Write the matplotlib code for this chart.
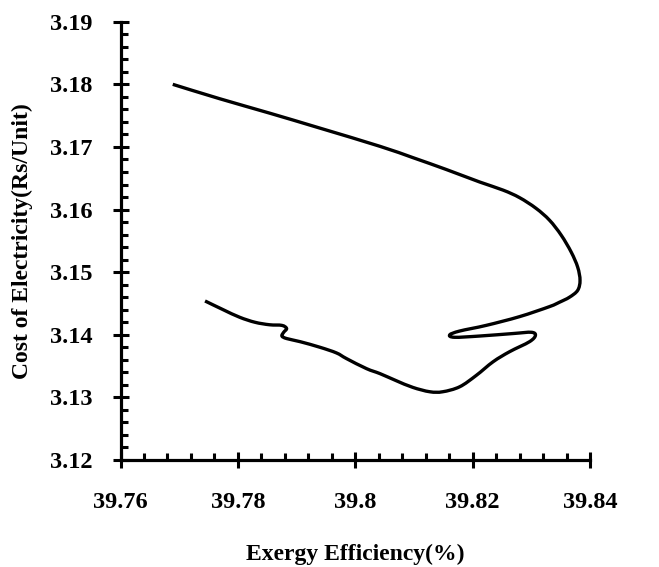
import matplotlib
matplotlib.use("Agg")
import matplotlib.pyplot as plt
import numpy as np
from matplotlib.path import Path
from matplotlib.patches import PathPatch
from matplotlib.ticker import MultipleLocator, FixedLocator

# Exergy efficiency (%) vs cost of electricity (Rs/Unit) along the trade-off curve
exergy_eff = [
    39.7689, 39.7769, 39.7854, 39.7940, 39.8042, 39.8098, 39.8155, 39.8212,
    39.8252, 39.8280, 39.8308, 39.8331, 39.8351, 39.8368, 39.8379, 39.8383,
    39.8379, 39.8365, 39.8348, 39.8331, 39.8280, 39.8223, 39.8178, 39.8161,
    39.8169, 39.8212, 39.8269, 39.8300, 39.8307, 39.8297, 39.8263, 39.8235,
    39.8206, 39.8178, 39.8149, 39.8127, 39.8098, 39.8069, 39.8042, 39.8019,
    39.7985, 39.7968, 39.7940, 39.7906, 39.7883, 39.7875, 39.7878, 39.7883,
    39.7875, 39.7854, 39.7829, 39.7803, 39.7775, 39.7744,
]
cost_electricity = [
    3.1800, 3.1777, 3.1754, 3.1730, 3.1701, 3.1683, 3.1664, 3.1644,
    3.1631, 3.1619, 3.1602, 3.1583, 3.1559, 3.1532, 3.1508, 3.1487,
    3.1471, 3.1460, 3.1452, 3.1445, 3.1429, 3.1415, 3.1406, 3.1400,
    3.1396, 3.1398, 3.1402, 3.1404, 3.1399, 3.1389, 3.1373, 3.1357,
    3.1335, 3.1317, 3.1309, 3.1309, 3.1316, 3.1327, 3.1338, 3.1346,
    3.1362, 3.1371, 3.1380, 3.1389, 3.1394, 3.1398, 3.1404, 3.1410,
    3.1415, 3.1416, 3.1420, 3.1428, 3.1440, 3.1454,
]

x_ticks = [39.76, 39.78, 39.80, 39.82, 39.84]
x_tick_labels = ["39.76", "39.78", "39.8", "39.82", "39.84"]
y_ticks = [3.12, 3.13, 3.14, 3.15, 3.16, 3.17, 3.18, 3.19]
y_tick_labels = ["3.12", "3.13", "3.14", "3.15", "3.16", "3.17", "3.18", "3.19"]


def smooth_path(xs, ys, tension=1.0 / 6.0):
    """Smoothed line through the points as cubic Bezier segments."""
    pts = np.column_stack([xs, ys])
    n = len(pts)
    verts = [pts[0]]
    codes = [Path.MOVETO]
    for i in range(n - 1):
        p0 = pts[i - 1] if i > 0 else pts[i]
        p1 = pts[i]
        p2 = pts[i + 1]
        p3 = pts[i + 2] if i + 2 < n else pts[i + 1]
        c1 = p1 + (p2 - p0) * tension
        c2 = p2 - (p3 - p1) * tension
        verts.extend([c1, c2, p2])
        codes.extend([Path.CURVE4] * 3)
    return Path(verts, codes)


plt.rcParams["font.family"] = ["Liberation Serif", "DejaVu Serif"]
plt.rcParams["font.weight"] = "bold"

fig = plt.figure(figsize=(6.59, 5.67), dpi=100)
ax = fig.add_axes([0.1829, 0.1887, 0.7124, 0.7730])

curve = PathPatch(smooth_path(exergy_eff, cost_electricity), facecolor="none",
                  edgecolor="black", linewidth=2.4, joinstyle="round",
                  capstyle="butt", transform=ax.transData)
ax.add_patch(curve)

ax.set_xlim(39.76, 39.84)
ax.set_ylim(3.12, 3.19)

ax.xaxis.set_major_locator(FixedLocator(x_ticks))
ax.set_xticklabels(x_tick_labels)
ax.yaxis.set_major_locator(FixedLocator(y_ticks))
ax.set_yticklabels(y_tick_labels)
ax.xaxis.set_minor_locator(MultipleLocator(0.004))
ax.yaxis.set_minor_locator(MultipleLocator(0.002))

for side in ("top", "right"):
    ax.spines[side].set_visible(False)
for side in ("left", "bottom"):
    ax.spines[side].set_linewidth(2.3)

ax.tick_params(which="major", direction="inout", length=12, width=2.2,
               labelsize=17.5)
ax.tick_params(which="minor", direction="in", length=5, width=2.2)
ax.tick_params(axis="x", which="major", pad=17)
ax.tick_params(axis="y", which="major", pad=14)

for lbl in ax.get_xticklabels() + ax.get_yticklabels():
    lbl.set_fontweight("bold")

ax.set_xlabel("Exergy Efficiency(%)", fontsize=17, fontweight="bold", labelpad=22)
ax.set_ylabel("Cost of Electricity(Rs/Unit)", fontsize=17, fontweight="bold",
              labelpad=12)

fig.savefig("out.png", dpi=100)
